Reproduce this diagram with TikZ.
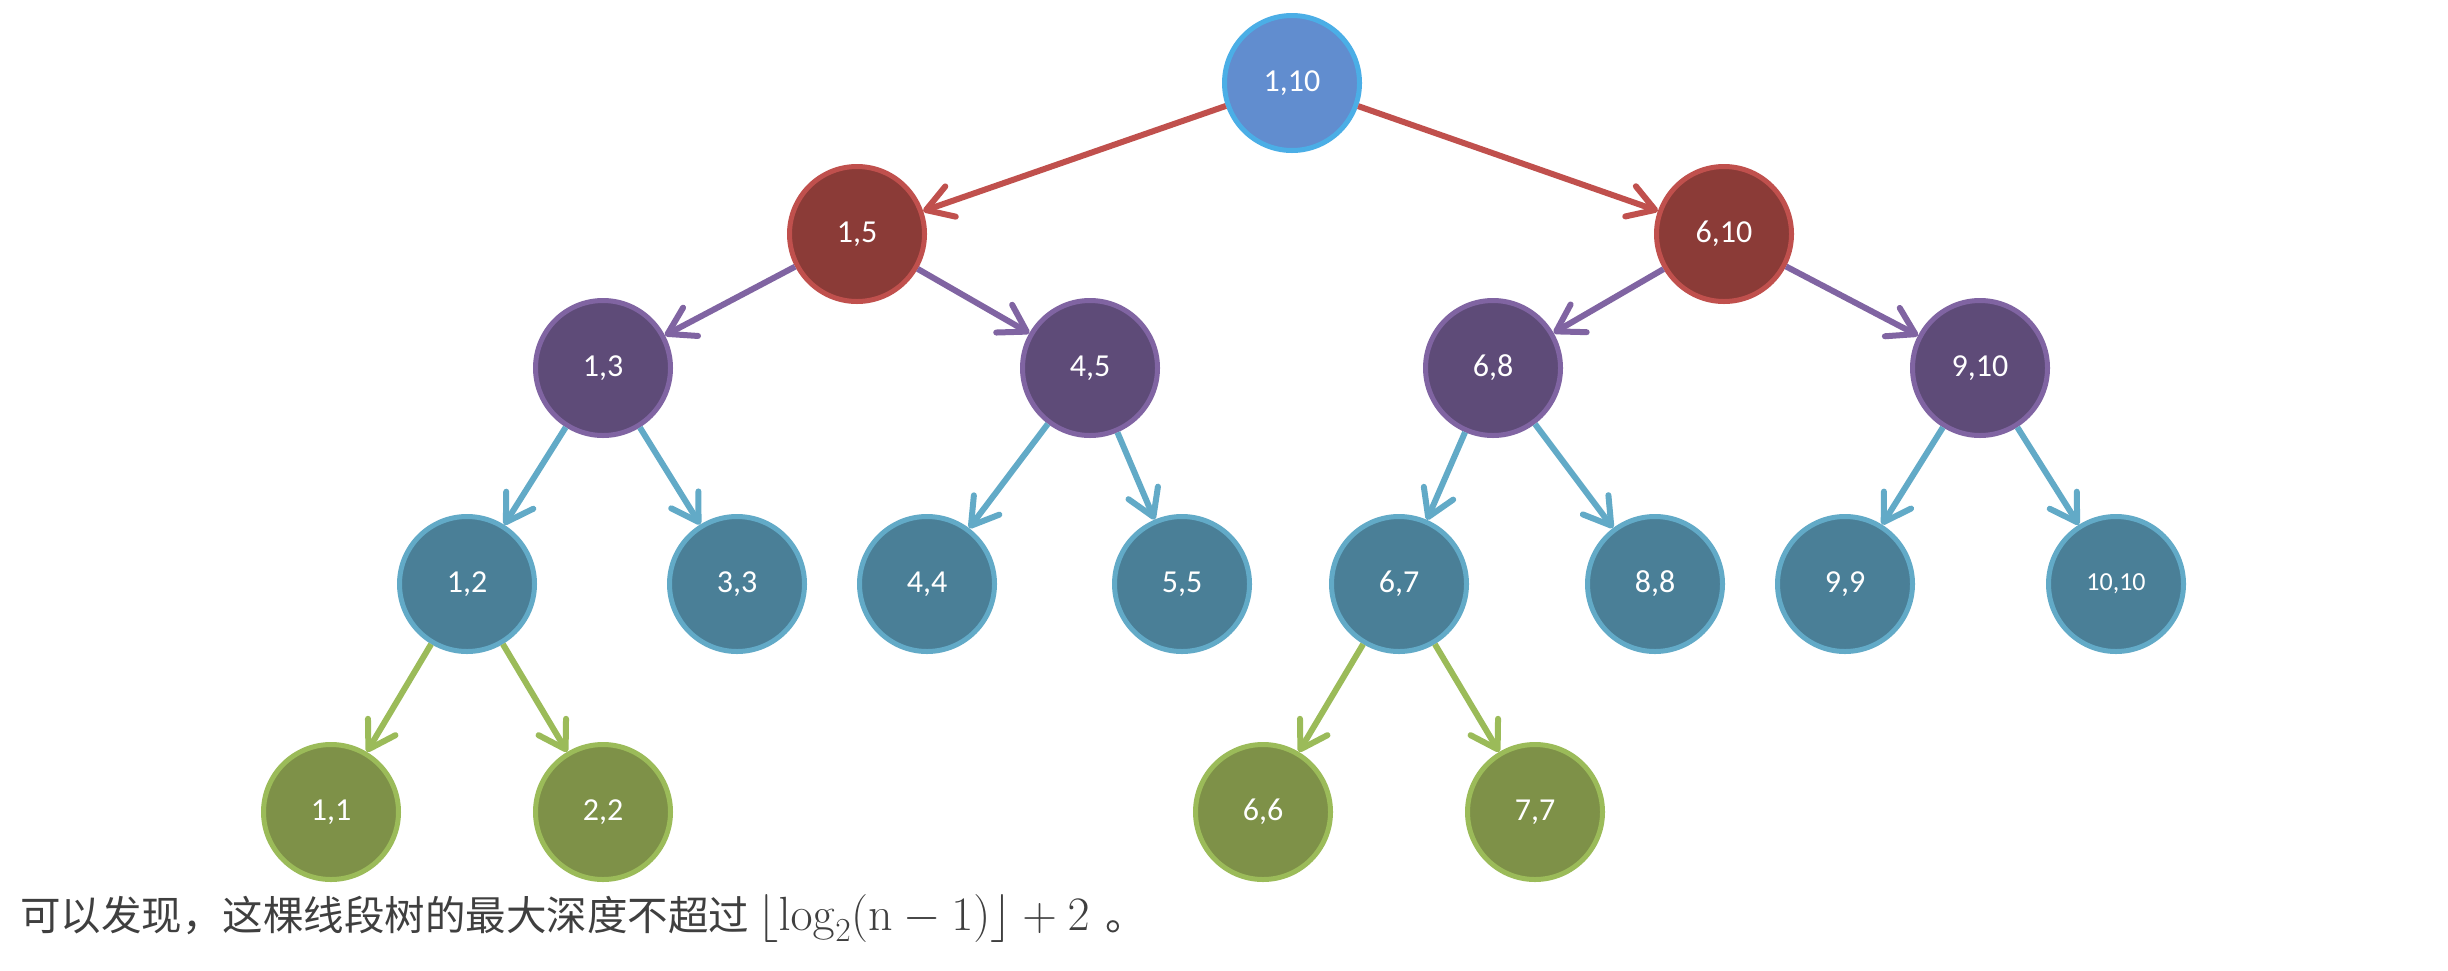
\documentclass[tikz,border=0pt]{standalone}
\usepackage{fix-cm}
\usepackage[no-math]{fontspec}
\newfontfamily\cjk{Noto Sans CJK SC}
\newfontfamily\lbl{Carlito}
\usetikzlibrary{arrows.meta}
\definecolor{topfill}{HTML}{618DCF}
\definecolor{topline}{HTML}{4BAEE6}
\definecolor{redfill}{HTML}{8B3B37}
\definecolor{redline}{HTML}{C0504D}
\definecolor{purfill}{HTML}{5E4B78}
\definecolor{purline}{HTML}{8064A2}
\definecolor{bluefill}{HTML}{4A7F97}
\definecolor{blueline}{HTML}{62AAC7}
\definecolor{grnfill}{HTML}{7E9148}
\definecolor{grnline}{HTML}{9BBB59}
\definecolor{txtgray}{HTML}{3F3F3F}
\tikzset{
  seg/.style={circle, minimum size=135pt, inner sep=0pt, line width=5pt, text=white, font=\lbl\fontsize{32}{36}\selectfont},
  lv0/.style={seg, fill=topfill, draw=topline},
  lv1/.style={seg, fill=redfill, draw=redline},
  lv2/.style={seg, fill=purfill, draw=purline},
  lv3/.style={seg, fill=bluefill, draw=blueline},
  lv4/.style={seg, fill=grnfill, draw=grnline},
  edge/.style={line width=6pt, -{Straight Barb[length=26pt,width=32pt,round]}},
}
\begin{document}
\begin{tikzpicture}[x=1pt,y=-1pt]
\useasboundingbox (0,0) rectangle (2448,970);
\node[lv0] (A) at (1292,83) {1,10};
\node[lv1] (B) at (857,234) {1,5};
\node[lv1] (C) at (1724,234) {6,10};
\node[lv2] (D) at (603,368) {1,3};
\node[lv2] (E) at (1090,368) {4,5};
\node[lv2] (F) at (1493,368) {6,8};
\node[lv2] (G) at (1980,368) {9,10};
\node[lv3] (H) at (467,584) {1,2};
\node[lv3] (I) at (737,584) {3,3};
\node[lv3] (J) at (927,584) {4,4};
\node[lv3] (K) at (1182,584) {5,5};
\node[lv3] (L) at (1399,584) {6,7};
\node[lv3] (M) at (1655,584) {8,8};
\node[lv3] (N) at (1845,584) {9,9};
\node[lv3, font=\lbl\fontsize{26}{30}\selectfont] (O) at (2116,584) {10,10};
\node[lv4] (P) at (331,812) {1,1};
\node[lv4] (Q) at (603,812) {2,2};
\node[lv4] (R) at (1263,812) {6,6};
\node[lv4] (S) at (1535,812) {7,7};
\draw[edge, redline] (A) -- (B);
\draw[edge, redline] (A) -- (C);
\draw[edge, purline] (B) -- (D);
\draw[edge, purline] (B) -- (E);
\draw[edge, purline] (C) -- (F);
\draw[edge, purline] (C) -- (G);
\draw[edge, blueline] (D) -- (H);
\draw[edge, blueline] (D) -- (I);
\draw[edge, blueline] (E) -- (J);
\draw[edge, blueline] (E) -- (K);
\draw[edge, blueline] (F) -- (L);
\draw[edge, blueline] (F) -- (M);
\draw[edge, blueline] (G) -- (N);
\draw[edge, blueline] (G) -- (O);
\draw[edge, grnline] (H) -- (P);
\draw[edge, grnline] (H) -- (Q);
\draw[edge, grnline] (L) -- (R);
\draw[edge, grnline] (L) -- (S);
\node[anchor=base west, inner sep=0pt, text=txtgray, font=\cjk\fontsize{40.5}{48}\selectfont] (T) at (20,930)
  {可以发现，这棵线段树的最大深度不超过\hspace{0.2em}{\fontsize{48}{54}\selectfont$\left\lfloor \log_2(\mathrm{n}-1)\right\rfloor+2$}\hspace{0.4em}。};
\end{tikzpicture}
\end{document}
